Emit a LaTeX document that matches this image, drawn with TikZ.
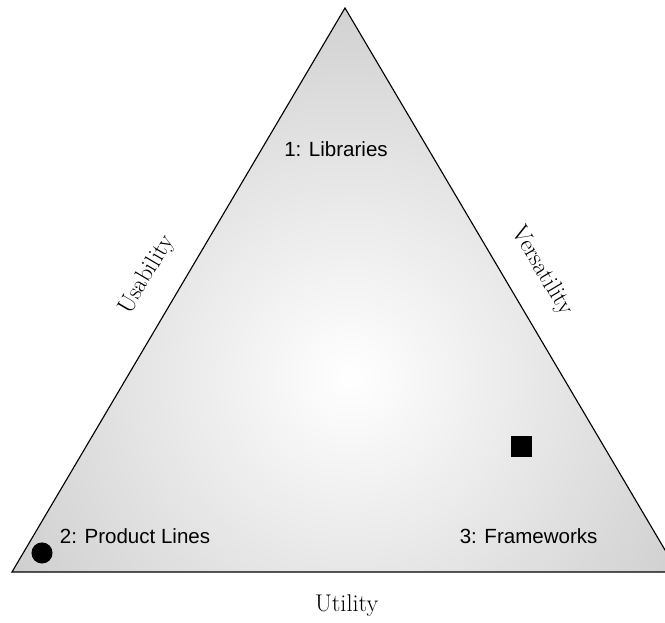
\documentclass[tikz,border=0pt]{standalone}
\usepackage{fontspec}
\newfontfamily\labelfont{Liberation Sans}
\usetikzlibrary{positioning,calc,shapes}

\tikzset{
  corner/.style={font=\labelfont\fontsize{14.6}{16}\selectfont},
  side/.style={font=\fontsize{17.2}{19}\selectfont},
}

\begin{document}
\begin{tikzpicture}[x=0.025cm,y=0.025cm]
    \clip (0,0) rectangle (665,623);
    \coordinate (top) at (345,615);
    \coordinate (left) at (12,51);
    \coordinate (right) at (678,51);
    \begin{scope}
      \clip (top) -- (left) -- (right) -- cycle;
      \shade[inner color=white,outer color=gray!62] (350,246) circle (640);
    \end{scope}
    \draw[line width=0.8pt,line join=miter] (top) -- (left) -- (right) -- cycle;
    \node [corner] (1) at (336,474) {1: Libraries};
    \node [corner] (2) at (135,87) {2: Product Lines};
    \node [corner] (3) at (528.6,87) {3: Frameworks};
    \node [side,anchor=base] (u) at (346.7,11.3) {Utility};
    \node [side,rotate=59.4] (us) at (147,348) {Usability};
    \node [side,rotate=-59.4] (v) at (542,352) {Versatility};
    \node [circle,fill=black,inner sep=0pt,minimum size=15] (p) at (42,70) {};
    \node [rectangle,fill=black,inner sep=0pt,minimum size=15] (f) at (521.7,176.5) {};
\end{tikzpicture}
\end{document}
